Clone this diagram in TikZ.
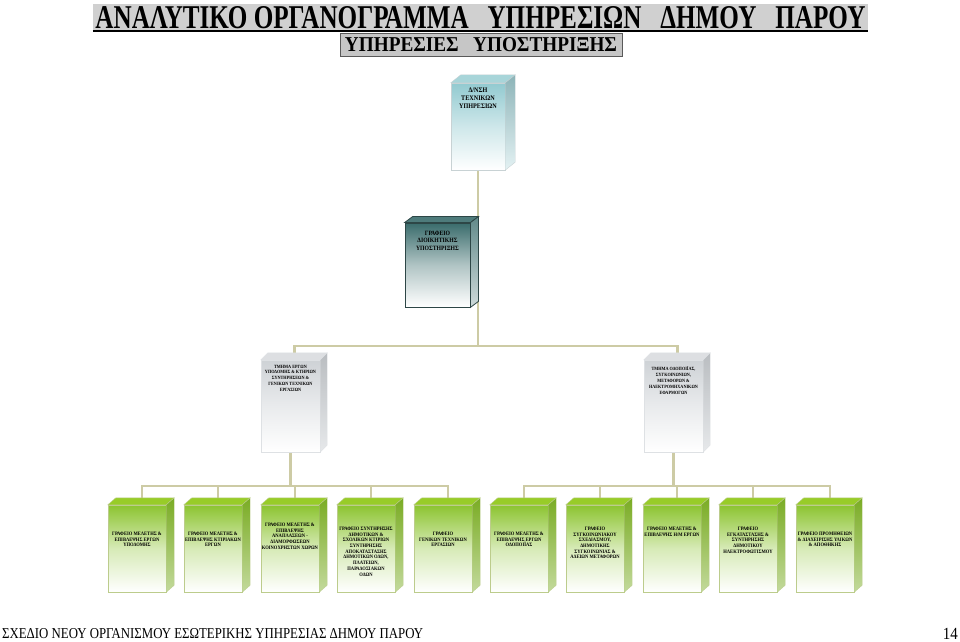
\documentclass[tikz,border=0pt]{standalone}
\usepackage{fontspec}
\setmainfont{Liberation Serif}
\newfontfamily\boxfont[FakeStretch=0.88]{Liberation Serif}
\usepackage{graphicx}
\usepackage{xcolor}
\usetikzlibrary{calc,backgrounds}

\definecolor{linkline}{RGB}{205,203,165}
\definecolor{titlegray}{RGB}{208,208,208}
\definecolor{subgray}{RGB}{198,198,198}
\definecolor{leaftop}{RGB}{152,204,40}
\definecolor{leafgreen}{RGB}{140,196,48}
\definecolor{leafside}{RGB}{122,172,36}
\definecolor{leafedge}{RGB}{188,204,140}
\definecolor{unitgray}{RGB}{206,210,214}
\definecolor{unitedge}{RGB}{222,225,228}
\definecolor{headteal}{RGB}{146,202,208}
\definecolor{headedge}{RGB}{200,210,212}
\definecolor{offteal}{RGB}{58,108,108}
\definecolor{offedge}{RGB}{45,70,70}

% text at the top of a box face: width, height, top gap, text
\newcommand{\inbox}[4]{\parbox[c][#2][t]{#1}{\vspace*{#3}\centering #4\par}}

\begin{document}
\begin{tikzpicture}[
            x=1bp, y=-1bp,
            link/.style={draw=linkline, line width=2.6bp},
            titlebox/.style={rectangle, inner sep=0pt, fill=titlegray, minimum width=775bp, minimum height=27bp},
            subbox/.style={rectangle, inner sep=0pt, fill=subgray, draw=black!65, line width=0.8bp, minimum width=282bp, minimum height=23bp},
            head/.style={rectangle, inner sep=0pt, draw=headedge, top color=headteal, bottom color=white, middle color=headteal!45, font=\boxfont\bfseries\fontsize{7bp}{8bp}\selectfont},
            office/.style={rectangle, inner sep=0pt, draw=offedge, line width=0.8bp, top color=offteal, bottom color=white, middle color=offteal!40, font=\boxfont\bfseries\fontsize{6.5bp}{7.5bp}\selectfont},
            unit/.style={rectangle, inner sep=0pt, draw=unitedge, top color=unitgray, bottom color=white, middle color=unitgray!45, font=\boxfont\bfseries\fontsize{4.8bp}{5.8bp}\selectfont},
            leaf/.style={rectangle, inner sep=0pt, draw=leafedge, top color=leafgreen, bottom color=white, middle color=leafgreen!35, font=\boxfont\bfseries\fontsize{5.2bp}{5.7bp}\selectfont}
        ]
        \useasboundingbox (0,0) rectangle (960,642);

        \node[titlebox] (ttl) at (480.5,17.5) {\resizebox{770bp}{22bp}{\bfseries ΑΝΑΛΥΤΙΚΟ ΟΡΓΑΝΟΓΡΑΜΜΑ\hspace{0.5em} ΥΠΗΡΕΣΙΩΝ\hspace{0.5em} ΔΗΜΟΥ\hspace{0.5em} ΠΑΡΟΥ}};
        \draw[line width=2.4bp] (ttl.south west) -- (ttl.south east);
        \node[subbox] (sub) at (481,44.5) {\resizebox{272bp}{14bp}{\bfseries ΥΠΗΡΕΣΙΕΣ\hspace{0.5em} ΥΠΟΣΤΗΡΙΞΗΣ}};

        \node[head] (dnsi) at (478,126.5) {\inbox{54bp}{87bp}{5bp}{Δ/ΝΣΗ\\ΤΕΧΝΙΚΩΝ\\ΥΠΗΡΕΣΙΩΝ}};
        \node[office] (dioik) at (437.5,265) {\inbox{65bp}{84bp}{8bp}{ΓΡΑΦΕΙΟ\\ΔΙΟΙΚΗΤΙΚΗΣ\\ΥΠΟΣΤΗΡΙΞΗΣ}};

        \node[unit] (tmA) at (290.5,406) {\inbox{59bp}{92bp}{5bp}{ΤΜΗΜΑ ΕΡΓΩΝ\\ΥΠΟΔΟΜΗΣ \& ΚΤΗΡΙΩΝ\\ΣΥΝΤΗΡΗΣΕΩΝ \&\\ΓΕΝΙΚΩΝ ΤΕΧΝΙΚΩΝ\\ΕΡΓΑΣΙΩΝ}};
        \node[unit] (tmB) at (673.5,406) {\inbox{59bp}{92bp}{7bp}{ΤΜΗΜΑ ΟΔΟΠΟΙΪΑΣ,\\ΣΥΓΚΟΙΝΩΝΙΩΝ,\\ΜΕΤΑΦΟΡΩΝ \&\\ΗΛΕΚΤΡΟΜΗΧΑΝΙΚΩΝ\\ΕΦΑΡΜΟΓΩΝ}};

        \node[leaf] (g1) at (137,548.5) {\inbox{58bp}{87bp}{27bp}{ΓΡΑΦΕΙΟ ΜΕΛΕΤΗΣ \&\\ΕΠΙΒΛΕΨΗΣ ΕΡΓΩΝ\\ΥΠΟΔΟΜΗΣ}};
        \node[leaf] (g2) at (213,548.5) {\inbox{58bp}{87bp}{27bp}{ΓΡΑΦΕΙΟ ΜΕΛΕΤΗΣ \&\\ΕΠΙΒΛΕΨΗΣ ΚΤΙΡΙΑΚΩΝ\\ΕΡΓΩΝ}};
        \node[leaf] (g3) at (290,548.5) {\inbox{58bp}{87bp}{18bp}{ΓΡΑΦΕΙΟ ΜΕΛΕΤΗΣ \&\\ΕΠΙΒΛΕΨΗΣ\\ΑΝΑΠΛΑΣΕΩΝ -\\ΔΙΑΜΟΡΦΩΣΕΩΝ\\ΚΟΙΝΟΧΡΗΣΤΩΝ ΧΩΡΩΝ}};
        \node[leaf] (g4) at (366,548.5) {\inbox{58bp}{87bp}{22bp}{ΓΡΑΦΕΙΟ ΣΥΝΤΗΡΗΣΗΣ\\ΔΗΜΟΤΙΚΩΝ \&\\ΣΧΟΛΙΚΩΝ ΚΤΙΡΙΩΝ\\ΣΥΝΤΗΡΗΣΗΣ\\ΑΠΟΚΑΤΑΣΤΑΣΗΣ\\ΔΗΜΟΤΙΚΩΝ ΟΔΩΝ,\\ΠΛΑΤΕΙΩΝ,\\ΠΑΡΑΔΟΣΙΑΚΩΝ\\ΟΔΩΝ}};
        \node[leaf] (g5) at (443,548.5) {\inbox{58bp}{87bp}{27bp}{ΓΡΑΦΕΙΟ\\ΓΕΝΙΚΩΝ ΤΕΧΝΙΚΩΝ\\ΕΡΓΑΣΙΩΝ}};
        \node[leaf] (g6) at (519,548.5) {\inbox{58bp}{87bp}{27bp}{ΓΡΑΦΕΙΟ ΜΕΛΕΤΗΣ \&\\ΕΠΙΒΛΕΨΗΣ ΕΡΓΩΝ\\ΟΔΟΠΟΙΪΑΣ}};
        \node[leaf] (g7) at (595,548.5) {\inbox{58bp}{87bp}{22bp}{ΓΡΑΦΕΙΟ\\ΣΥΓΚΟΙΝΩΝΙΑΚΟΥ\\ΣΧΕΔΙΑΣΜΟΥ,\\ΔΗΜΟΤΙΚΗΣ\\ΣΥΓΚΟΙΝΩΝΙΑΣ \&\\ΑΔΕΙΩΝ ΜΕΤΑΦΟΡΩΝ}};
        \node[leaf] (g8) at (672,548.5) {\inbox{58bp}{87bp}{22bp}{ΓΡΑΦΕΙΟ ΜΕΛΕΤΗΣ \&\\ΕΠΙΒΛΕΨΗΣ Η/Μ ΕΡΓΩΝ}};
        \node[leaf] (g9) at (748,548.5) {\inbox{58bp}{87bp}{22bp}{ΓΡΑΦΕΙΟ\\ΕΓΚΑΤΑΣΤΑΣΗΣ \&\\ΣΥΝΤΗΡΗΣΗΣ\\ΔΗΜΟΤΙΚΟΥ\\ΗΛΕΚΤΡΟΦΩΤΙΣΜΟΥ}};
        \node[leaf] (g10) at (825,548.5) {\inbox{58bp}{87bp}{27bp}{ΓΡΑΦΕΙΟ ΠΡΟΜΗΘΕΙΩΝ\\\& ΔΙΑΧΕΙΡΙΣΗΣ ΥΛΙΚΩΝ\\\& ΑΠΟΘΗΚΗΣ}};

        % box depth: top and side faces
        \filldraw[fill=headteal!80, draw=headedge] (dnsi.north west) -- ++(10,-8) -- ($(dnsi.north east)+(10,-8)$) -- (dnsi.north east) -- cycle;
        \shadedraw[top color=headteal!70!gray, bottom color=headteal!25, draw=headedge] (dnsi.north east) -- ++(10,-8) -- ($(dnsi.south east)+(10,-8)$) -- (dnsi.south east) -- cycle;
        \filldraw[fill=offteal!90, draw=offedge, line width=0.8bp] (dioik.north west) -- ++(8,-6) -- ($(dioik.north east)+(8,-6)$) -- (dioik.north east) -- cycle;
        \shadedraw[top color=offteal!80, bottom color=offteal!25, draw=offedge, line width=0.8bp] (dioik.north east) -- ++(8,-6) -- ($(dioik.south east)+(8,-6)$) -- (dioik.south east) -- cycle;
        \foreach \n in {tmA,tmB} {
            \filldraw[fill=unitgray!70, draw=unitedge] (\n.north west) -- ++(7,-7) -- ($(\n.north east)+(7,-7)$) -- (\n.north east) -- cycle;
            \shadedraw[top color=unitgray!90!black, bottom color=unitgray!50, draw=unitedge] (\n.north east) -- ++(7,-7) -- ($(\n.south east)+(7,-7)$) -- (\n.south east) -- cycle;
        }
        \foreach \n in {g1,g2,g3,g4,g5,g6,g7,g8,g9,g10} {
            \filldraw[fill=leaftop, draw=leafedge] (\n.north west) -- ++(8,-7) -- ($(\n.north east)+(8,-7)$) -- (\n.north east) -- cycle;
            \shadedraw[top color=leafside, bottom color=leafside!45, draw=leafedge] (\n.north east) -- ++(8,-7) -- ($(\n.south east)+(8,-7)$) -- (\n.south east) -- cycle;
        }

        % connectors
        \begin{scope}[on background layer]
            \coordinate (hub) at (478,346);
            \draw[link] (dnsi.south) -- (hub);
            \draw[link] (dioik.east) -- (dioik.east -| hub);
            \draw[link] ($(tmA.north)+(4,0)$) |- (hub) -| ($(tmB.north)+(4,0)$);

            \coordinate (busA) at ($(tmA.south)+(0,34)$);
            \coordinate (busB) at ($(tmB.south)+(0,34)$);
            \draw[link] (tmA.south) -- (busA);
            \draw[link] (tmB.south) -- (busB);
            \draw[link] ($(g1.north)+(5,0)$) |- ($(g5.north)+(5,-19)$) -- ($(g5.north)+(5,0)$);
            \draw[link] ($(g6.north)+(5,0)$) |- ($(g10.north)+(5,-19)$) -- ($(g10.north)+(5,0)$);
            \foreach \n in {g2,g3,g4,g7,g8,g9}
                \draw[link] ($(\n.north)+(5,0)$) -- ++(0,-19);
        \end{scope}

        \node[anchor=base west, inner sep=0pt] (foot) at (2,638.5) {\resizebox{421bp}{10bp}{ΣΧΕΔΙΟ ΝΕΟΥ ΟΡΓΑΝΙΣΜΟΥ ΕΣΩΤΕΡΙΚΗΣ ΥΠΗΡΕΣΙΑΣ ΔΗΜΟΥ ΠΑΡΟΥ}};
        \node[anchor=base east, inner sep=0pt, font=\boxfont\fontsize{17bp}{17bp}\selectfont] (page) at (958,639.5) {14};
    \end{tikzpicture}
\end{document}
